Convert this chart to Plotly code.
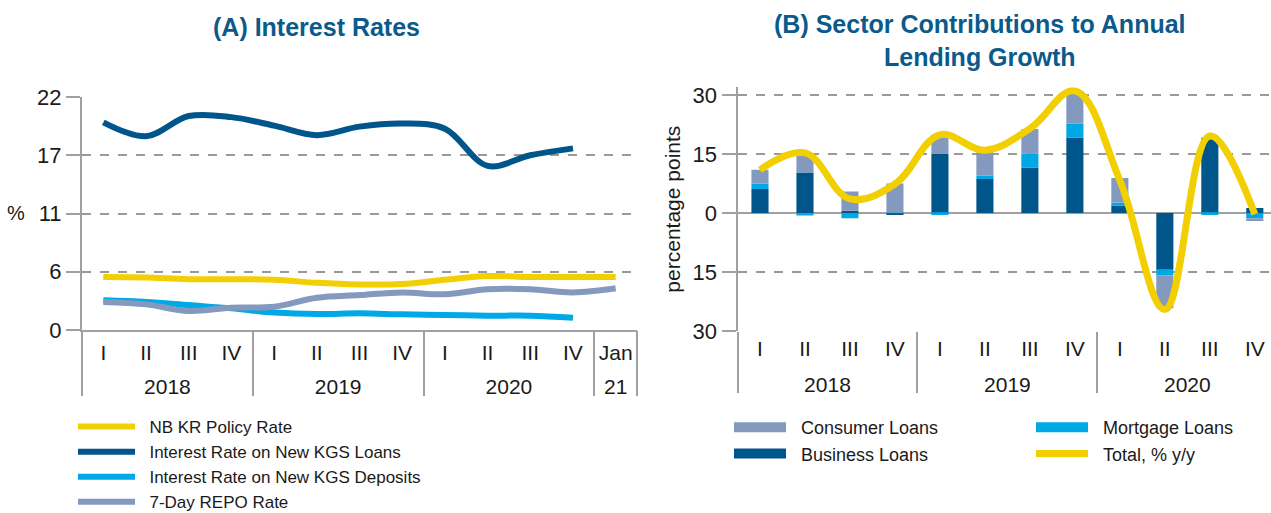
import plotly.graph_objects as go

# ---------------- data ----------------
# Panel A: interest rates (quarterly, 2018 I .. 2020 IV, Jan 2021)
a_years = ["2018"] * 4 + ["2019"] * 4 + ["2020"] * 4 + ["21"]
a_quarters = ["I", "II", "III", "IV"] * 3 + ["Jan"]
policy_rate = [5.0, 4.95, 4.8, 4.8, 4.75, 4.45, 4.3, 4.35, 4.75, 5.1, 5.0, 5.0, 5.0]
loans_rate = [19.6, 18.3, 20.2, 20.1, 19.3, 18.4, 19.2, 19.5, 19.0, 15.5, 16.5, 17.15, None]
deposits_rate = [2.8, 2.65, 2.35, 2.05, 1.65, 1.5, 1.57, 1.48, 1.42, 1.35, 1.35, 1.15, None]
repo_rate = [2.65, 2.42, 1.8, 2.1, 2.2, 3.05, 3.3, 3.55, 3.37, 3.84, 3.84, 3.55, 3.94]

a_tickvals = [0, 5.5, 11, 16.5, 22]
a_ticktext = ["0", "6", "11", "17", "22"]

# Panel B: sector contributions to annual lending growth
b_years = ["2018"] * 4 + ["2019"] * 4 + ["2020"] * 4
b_quarters = ["I", "II", "III", "IV"] * 3
business = [6.1, 10.3, 0.6, -0.5, 15.0, 8.7, 11.6, 19.2, 1.9, -14.4, 19.0, 1.3]
mortgage = [1.35, -0.6, -1.3, 0.1, -0.5, 0.8, 3.5, 3.5, 0.8, -1.5, -0.5, -1.3]
consumer = [3.55, 4.9, 4.9, 7.45, 4.9, 6.0, 6.3, 8.2, 6.2, -8.3, 0.3, -0.7]
total = [11.0, 15.3, 3.6, 7.4, 19.9, 16.0, 21.5, 31.1, 8.3, -24.5, 19.6, -0.3]

b_tickvals = [-30, -15, 0, 15, 30]
b_ticktext = ["30", "15", "0", "15", "30"]

# ---------------- helpers ----------------
def cats(years, quarters):
    return [q + " " + y for y, q in zip(years, quarters)]


def groups(years):
    """Return (group labels, group centres, boundaries) in category-index units."""
    labels, centres, bounds = [], [], [-0.5]
    start = 0
    for i in range(1, len(years) + 1):
        if i == len(years) or years[i] != years[start]:
            labels.append(years[start])
            centres.append((start + i - 1) / 2)
            bounds.append(i - 0.5)
            start = i
    return labels, centres, bounds


a_cats = cats(a_years, a_quarters)
b_cats = cats(b_years, b_quarters)
a_glab, a_gcen, a_gbnd = groups(a_years)
b_glab, b_gcen, b_gbnd = groups(b_years)

# ---------------- styling ----------------
C_YELLOW = "#F2CF00"
C_DARK = "#00558A"
C_LIGHT = "#00A9E6"
C_GREY = "#8399BD"
C_TITLE = "#0B5A8C"
C_AXIS = "#A0A0A0"
C_TEXT = "#1a1a1a"
FONT = "Liberation Sans, Arial, sans-serif"
PAD = "\u00a0\u00a0"

fig = go.Figure()

for name, vals, col in [
    ("NB KR Policy Rate", policy_rate, C_YELLOW),
    ("Interest Rate on New KGS Loans", loans_rate, C_DARK),
    ("Interest Rate on New KGS Deposits", deposits_rate, C_LIGHT),
    ("7-Day REPO Rate", repo_rate, C_GREY),
]:
    fig.add_trace(go.Scatter(
        x=a_cats, y=vals, name=PAD + name, mode="lines",
        line=dict(color=col, width=6, shape="spline", smoothing=1.0),
        xaxis="x", yaxis="y", legend="legend",
    ))

fig.add_trace(go.Bar(x=b_cats, y=business, name="Business Loans", marker=dict(color=C_DARK, line=dict(width=0)),
                     xaxis="x2", yaxis="y2", showlegend=False, width=0.38))
fig.add_trace(go.Bar(x=b_cats, y=mortgage, name="Mortgage Loans", marker=dict(color=C_LIGHT, line=dict(width=0)),
                     xaxis="x2", yaxis="y2", showlegend=False, width=0.38))
fig.add_trace(go.Bar(x=b_cats, y=consumer, name="Consumer Loans", marker=dict(color=C_GREY, line=dict(width=0)),
                     xaxis="x2", yaxis="y2", showlegend=False, width=0.38))
fig.add_trace(go.Scatter(x=b_cats, y=total, name="Total, % y/y", mode="lines",
                         line=dict(color=C_YELLOW, width=7, shape="spline", smoothing=1.1),
                         xaxis="x2", yaxis="y2", showlegend=False))

# empty traces that register the overlay axes (year labels + group dividers)
for xa, ya, xs in [("x3", "y", a_gcen), ("x4", "y", a_gbnd), ("x5", "y2", b_gcen), ("x6", "y2", b_gbnd)]:
    fig.add_trace(go.Scatter(x=xs, y=[None] * len(xs), mode="markers", xaxis=xa, yaxis=ya,
                             showlegend=False, hoverinfo="skip", marker=dict(opacity=0)))

# legend entries for panel B (wide rectangular symbols), two columns
for name, col, w, lg in [
    ("Consumer Loans", C_GREY, 14, "legend2"),
    ("Business Loans", C_DARK, 14, "legend2"),
    ("Mortgage Loans", C_LIGHT, 14, "legend3"),
    ("Total, % y/y", C_YELLOW, 7, "legend3"),
]:
    fig.add_trace(go.Scatter(x=[None], y=[None], name=PAD + name, mode="lines",
                             line=dict(color=col, width=w),
                             xaxis="x7", yaxis="y7", legend=lg))

W, H = 1271, 513


def px(x):
    return x / W


def py(y):
    return 1 - y / H


tickfont = dict(family=FONT, size=21, color=C_TEXT)
legfont = dict(family=FONT, size=17, color=C_TEXT)

A_DOM = [px(82), px(637)]
B_DOM = [px(737.5), 1.0]
A_RANGE = [-0.5, len(a_cats) - 0.5]
B_RANGE = [-0.5, len(b_cats) - 0.64]

grid = dict(showgrid=True, gridcolor="#9a9a9a", griddash="dash", gridwidth=1.5)
overlay_common = dict(showline=False, showgrid=False, zeroline=False, automargin=False, fixedrange=True)

fig.update_layout(
    width=W, height=H,
    margin=dict(l=0, r=0, t=0, b=0, autoexpand=False),
    paper_bgcolor="white", plot_bgcolor="white",
    barmode="relative",
    font=dict(family=FONT, color=C_TEXT),
    # ---- panel A axes
    xaxis=dict(
        type="category", domain=A_DOM, anchor="y", range=A_RANGE,
        tickvals=a_cats, ticktext=a_quarters,
        showline=True, linecolor=C_AXIS, linewidth=2, showgrid=False,
        ticks="", tickfont=tickfont, ticklabelstandoff=3, automargin=False,
    ),
    xaxis3=dict(  # year labels
        type="linear", overlaying="x", domain=A_DOM, anchor="free", position=py(372),
        range=A_RANGE, tickvals=a_gcen, ticktext=a_glab, ticks="", tickfont=tickfont,
        **overlay_common,
    ),
    xaxis4=dict(  # group dividers
        type="linear", overlaying="x", domain=A_DOM, anchor="y",
        range=A_RANGE, tickvals=a_gbnd, ticks="outside", ticklen=65, tickwidth=2, tickcolor=C_AXIS,
        showticklabels=False, **overlay_common,
    ),
    yaxis=dict(
        domain=[py(330), py(97)], anchor="x", range=[0, 22],
        tickvals=a_tickvals, ticktext=a_ticktext, tickfont=dict(family=FONT, size=22, color=C_TEXT),
        showline=True, linecolor=C_AXIS, linewidth=2,
        ticks="outside", ticklen=14, tickcolor=C_AXIS, tickwidth=2,
        zeroline=False, automargin=False, **grid,
    ),
    # ---- panel B axes
    xaxis2=dict(
        type="category", domain=B_DOM, anchor="y2", range=B_RANGE,
        tickvals=b_cats, ticktext=b_quarters,
        showline=False, showgrid=False, ticks="", tickfont=tickfont,
        ticklabelstandoff=3, automargin=False,
    ),
    xaxis5=dict(  # year labels
        type="linear", overlaying="x2", domain=B_DOM, anchor="free", position=py(370),
        range=B_RANGE, tickvals=b_gcen, ticktext=b_glab, ticks="", tickfont=tickfont,
        **overlay_common,
    ),
    xaxis6=dict(  # group dividers
        type="linear", overlaying="x2", domain=B_DOM, anchor="y2",
        range=B_RANGE, tickvals=b_gbnd, ticks="outside", ticklen=61, tickwidth=2, tickcolor=C_AXIS,
        showticklabels=False, **overlay_common,
    ),
    yaxis2=dict(
        domain=[py(331), py(87.3)], anchor="x2", range=[-30, 32],
        tickvals=b_tickvals, ticktext=b_ticktext, tickfont=dict(family=FONT, size=22, color=C_TEXT),
        showline=True, linecolor=C_AXIS, linewidth=2,
        ticks="outside", ticklen=14, tickcolor=C_AXIS, tickwidth=2,
        zeroline=True, zerolinecolor=C_AXIS, zerolinewidth=2,
        title=dict(text="percentage points", font=dict(family=FONT, size=21, color=C_TEXT), standoff=6),
        automargin=False, **grid,
    ),
    # ---- hidden axes for legend-only entries
    xaxis7=dict(domain=[0, 0.01], visible=False, anchor="y7"),
    yaxis7=dict(domain=[0, 0.01], visible=False, anchor="x7"),
    legend=dict(
        x=px(73), y=py(409), xanchor="left", yanchor="top",
        orientation="v", font=legfont,
        itemwidth=57, tracegroupgap=0, bgcolor="rgba(0,0,0,0)",
    ),
    legend2=dict(
        x=px(729), y=py(409), xanchor="left", yanchor="top",
        orientation="v", font=dict(family=FONT, size=18, color=C_TEXT),
        itemwidth=52, bgcolor="rgba(0,0,0,0)",
    ),
    legend3=dict(
        x=px(1031), y=py(409), xanchor="left", yanchor="top",
        orientation="v", font=dict(family=FONT, size=18, color=C_TEXT),
        itemwidth=52, bgcolor="rgba(0,0,0,0)",
    ),
    annotations=[
        dict(text="<b>(A) Interest Rates</b>", x=px(316), y=py(27), xref="paper", yref="paper",
             showarrow=False, font=dict(family=FONT, size=25, color=C_TITLE), xanchor="center", yanchor="middle"),
        dict(text="<b>(B) Sector Contributions to Annual<br>Lending Growth</b>", x=px(980), y=py(40),
             xref="paper", yref="paper", showarrow=False,
             font=dict(family=FONT, size=25, color=C_TITLE), xanchor="center", yanchor="middle"),
        dict(text="%", x=px(16), y=py(213), xref="paper", yref="paper", showarrow=False,
             font=dict(family=FONT, size=20, color=C_TEXT), xanchor="center", yanchor="middle"),
    ],
)

fig.write_html(
    "out.html",
    config={"displayModeBar": False},
    post_script="document.body.style.margin='0';document.body.style.overflow='hidden';",
)
